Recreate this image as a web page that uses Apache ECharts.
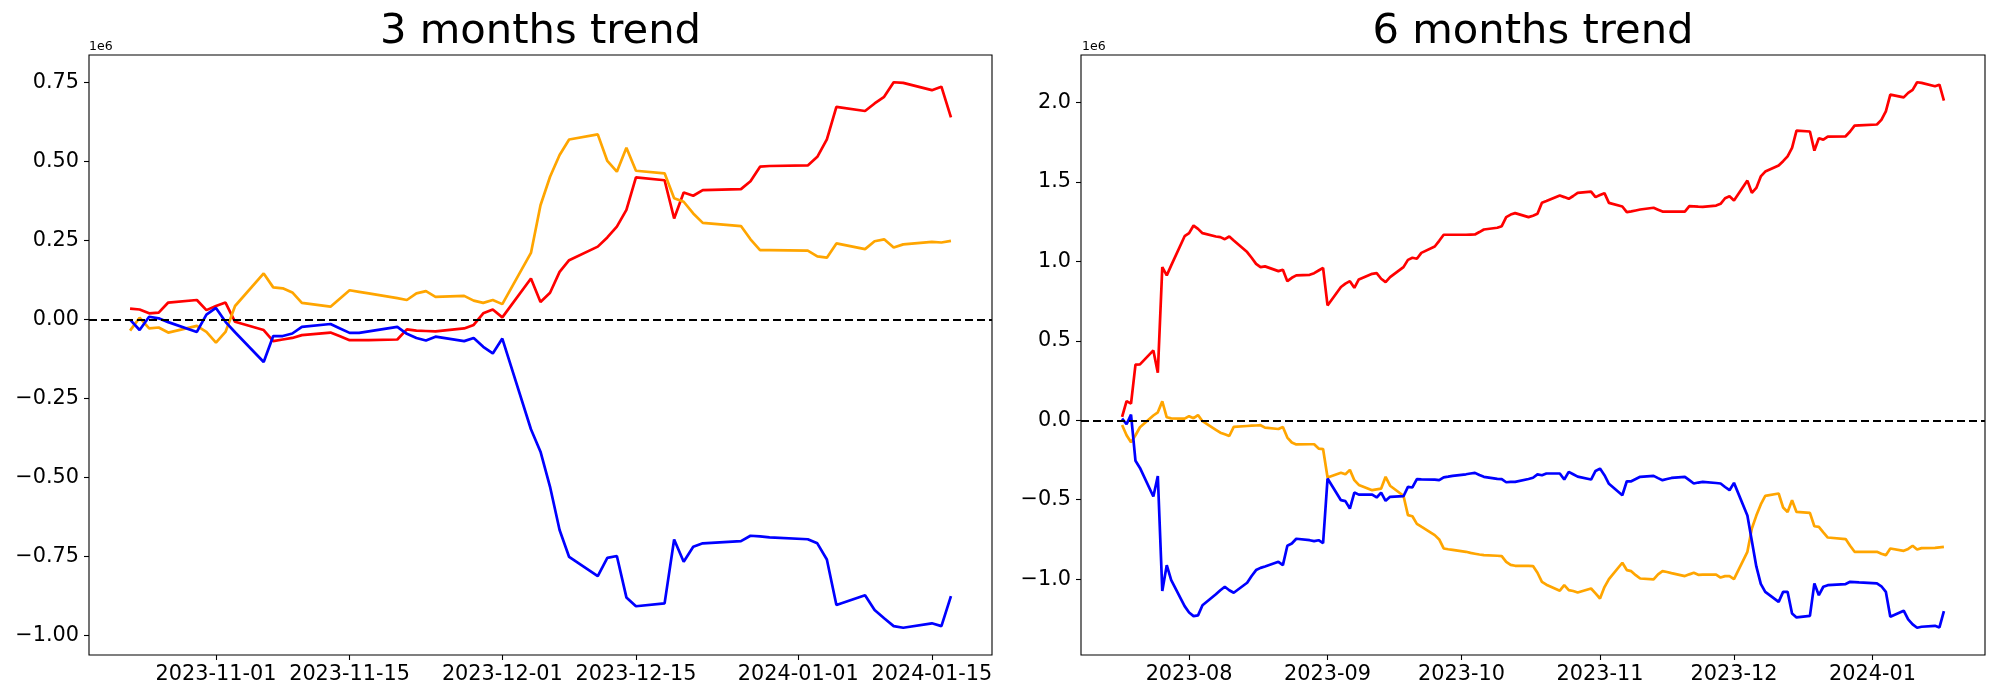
<!DOCTYPE html>
<html>
<head>
<meta charset="utf-8">
<style>
  html, body { margin: 0; padding: 0; background: #fff; }
  #chart { width: 2000px; height: 700px; }
</style>
<script src="https://cdn.jsdelivr.net/npm/echarts@6/dist/echarts.min.js"></script>
</head>
<body>
<div id="chart"></div>
<script>
// ---------------- DATA (values in units of 1e6) ----------------
const leftDates = [
  '2023-10-23','2023-10-24','2023-10-25','2023-10-26','2023-10-27',
  '2023-10-30','2023-10-31','2023-11-01','2023-11-02','2023-11-03',
  '2023-11-06','2023-11-07','2023-11-08','2023-11-09','2023-11-10',
  '2023-11-13','2023-11-14','2023-11-15','2023-11-16','2023-11-17',
  '2023-11-20','2023-11-21','2023-11-22','2023-11-23','2023-11-24',
  '2023-11-27','2023-11-28','2023-11-29','2023-11-30','2023-12-01',
  '2023-12-04','2023-12-05','2023-12-06','2023-12-07','2023-12-08',
  '2023-12-11','2023-12-12','2023-12-13','2023-12-14','2023-12-15',
  '2023-12-18','2023-12-19','2023-12-20','2023-12-21','2023-12-22',
  '2023-12-26','2023-12-27','2023-12-28','2023-12-29',
  '2024-01-02','2024-01-03','2024-01-04','2024-01-05',
  '2024-01-08','2024-01-09','2024-01-10','2024-01-11','2024-01-12',
  '2024-01-15','2024-01-16','2024-01-17'
];
const leftRed = [
  0.035, 0.032, 0.020, 0.022, 0.054,
  0.062, 0.030, 0.043, 0.054, -0.007,
  -0.033, -0.068, -0.063, -0.058, -0.049,
  -0.041, -0.053, -0.065, -0.065, -0.065,
  -0.063, -0.031, -0.035, -0.036, -0.037,
  -0.028, -0.017, 0.020, 0.032, 0.007,
  0.130, 0.056, 0.085, 0.151, 0.188,
  0.231, 0.260, 0.294, 0.347, 0.450,
  0.441, 0.320, 0.402, 0.392, 0.410,
  0.413, 0.438, 0.484, 0.486,
  0.488, 0.515, 0.570, 0.673,
  0.660, 0.684, 0.705, 0.751, 0.749,
  0.726, 0.737, 0.640
];
const leftOrange = [
  -0.035, 0.006, -0.028, -0.025, -0.041,
  -0.020, -0.039, -0.073, -0.039, 0.043,
  0.146, 0.102, 0.099, 0.086, 0.053,
  0.041, 0.067, 0.093, 0.088, 0.083,
  0.068, 0.062, 0.083, 0.090, 0.072,
  0.075, 0.060, 0.053, 0.062, 0.049,
  0.211, 0.362, 0.452, 0.521, 0.570,
  0.586, 0.502, 0.468, 0.544, 0.471,
  0.463, 0.384, 0.373, 0.336, 0.306,
  0.296, 0.254, 0.220, 0.220,
  0.218, 0.200, 0.196, 0.241,
  0.223, 0.248, 0.254, 0.228, 0.238,
  0.246, 0.244, 0.249
];
const leftBlue = [
  0.000, -0.033, 0.009, 0.004, -0.008,
  -0.039, 0.016, 0.037, -0.007, -0.040,
  -0.134, -0.052, -0.052, -0.044, -0.023,
  -0.014, -0.028, -0.042, -0.042, -0.037,
  -0.023, -0.045, -0.058, -0.066, -0.054,
  -0.068, -0.058, -0.086, -0.107, -0.060,
  -0.347, -0.418, -0.529, -0.666, -0.751,
  -0.812, -0.754, -0.748, -0.879, -0.907,
  -0.898, -0.696, -0.766, -0.719, -0.708,
  -0.701, -0.684, -0.686, -0.689,
  -0.695, -0.708, -0.759, -0.903,
  -0.872, -0.919, -0.945, -0.970, -0.975,
  -0.961, -0.970, -0.875
];

const rightDates = [
  '2023-07-17','2023-07-18','2023-07-19','2023-07-20','2023-07-21',
  '2023-07-24','2023-07-25','2023-07-26','2023-07-27','2023-07-28',
  '2023-07-31','2023-08-01','2023-08-02','2023-08-03','2023-08-04',
  '2023-08-07','2023-08-08','2023-08-09','2023-08-10','2023-08-11',
  '2023-08-14','2023-08-15','2023-08-16','2023-08-17','2023-08-18',
  '2023-08-21','2023-08-22','2023-08-23','2023-08-24','2023-08-25',
  '2023-08-28','2023-08-29','2023-08-30','2023-08-31','2023-09-01',
  '2023-09-04','2023-09-05','2023-09-06','2023-09-07','2023-09-08',
  '2023-09-11','2023-09-12','2023-09-13','2023-09-14','2023-09-15',
  '2023-09-18','2023-09-19','2023-09-20','2023-09-21','2023-09-22',
  '2023-09-25','2023-09-26','2023-09-27','2023-09-28','2023-09-29',
  '2023-10-02','2023-10-03','2023-10-04','2023-10-05','2023-10-06',
  '2023-10-09','2023-10-10','2023-10-11','2023-10-12','2023-10-13',
  '2023-10-16','2023-10-17','2023-10-18','2023-10-19','2023-10-20',
  '2023-10-23','2023-10-24','2023-10-25','2023-10-26','2023-10-27',
  '2023-10-30','2023-10-31','2023-11-01','2023-11-02','2023-11-03',
  '2023-11-06','2023-11-07','2023-11-08','2023-11-09','2023-11-10',
  '2023-11-13','2023-11-14','2023-11-15','2023-11-16','2023-11-17',
  '2023-11-20','2023-11-21','2023-11-22','2023-11-23','2023-11-24',
  '2023-11-27','2023-11-28','2023-11-29','2023-11-30','2023-12-01',
  '2023-12-04','2023-12-05','2023-12-06','2023-12-07','2023-12-08',
  '2023-12-11','2023-12-12','2023-12-13','2023-12-14','2023-12-15',
  '2023-12-18','2023-12-19','2023-12-20','2023-12-21','2023-12-22',
  '2023-12-26','2023-12-27','2023-12-28','2023-12-29',
  '2024-01-02','2024-01-03','2024-01-04','2024-01-05',
  '2024-01-08','2024-01-09','2024-01-10','2024-01-11','2024-01-12',
  '2024-01-15','2024-01-16','2024-01-17'
];
const rightRed = [
  0.021, 0.121, 0.105, 0.350, 0.352,
  0.440, 0.300, 0.964, 0.912, 0.975,
  1.159, 1.178, 1.226, 1.205, 1.178,
  1.157, 1.153, 1.140, 1.157, 1.132,
  1.059, 1.023, 0.985, 0.964, 0.969,
  0.939, 0.948, 0.876, 0.897, 0.912,
  0.916, 0.926, 0.943, 0.960, 0.723,
  0.839, 0.860, 0.876, 0.834, 0.887,
  0.922, 0.926, 0.891, 0.870, 0.901,
  0.964, 1.010, 1.023, 1.017, 1.054,
  1.094, 1.130, 1.168, 1.168, 1.168,
  1.168, 1.169, 1.170, 1.185, 1.201,
  1.212, 1.222, 1.279, 1.295, 1.304,
  1.279, 1.288, 1.300, 1.369, 1.380,
  1.415, 1.405, 1.394, 1.412, 1.432,
  1.440, 1.405, 1.418, 1.430, 1.369,
  1.346, 1.310, 1.315, 1.321, 1.327,
  1.338, 1.326, 1.314, 1.314, 1.314,
  1.314, 1.348, 1.347, 1.345, 1.344,
  1.352, 1.363, 1.398, 1.411, 1.384,
  1.509, 1.432, 1.463, 1.535, 1.566,
  1.604, 1.631, 1.662, 1.715, 1.824,
  1.818, 1.698, 1.776, 1.767, 1.786,
  1.788, 1.818, 1.855, 1.857,
  1.862, 1.891, 1.945, 2.050,
  2.033, 2.061, 2.080, 2.128, 2.124,
  2.103, 2.113, 2.013
];
const rightOrange = [
  -0.030, -0.094, -0.138, -0.094, -0.044,
  0.030, 0.050, 0.119, 0.019, 0.012,
  0.010, 0.026, 0.013, 0.033, -0.006,
  -0.060, -0.078, -0.088, -0.099, -0.042,
  -0.036, -0.034, -0.033, -0.031, -0.046,
  -0.055, -0.042, -0.109, -0.140, -0.152,
  -0.151, -0.151, -0.178, -0.181, -0.360,
  -0.330, -0.340, -0.312, -0.377, -0.407,
  -0.440, -0.435, -0.430, -0.356, -0.412,
  -0.475, -0.597, -0.604, -0.652, -0.670,
  -0.723, -0.750, -0.807, -0.812, -0.816,
  -0.828, -0.835, -0.840, -0.845, -0.849,
  -0.853, -0.855, -0.891, -0.910, -0.916,
  -0.917, -0.918, -0.960, -1.017, -1.035,
  -1.073, -1.038, -1.069, -1.075, -1.084,
  -1.059, -1.090, -1.122, -1.050, -1.000,
  -0.897, -0.943, -0.950, -0.975, -0.996,
  -1.002, -0.970, -0.950, -0.955, -0.962,
  -0.981, -0.970, -0.960, -0.973, -0.972,
  -0.971, -0.990, -0.981, -0.981, -1.000,
  -0.828, -0.681, -0.600, -0.530, -0.476,
  -0.461, -0.549, -0.577, -0.503, -0.577,
  -0.583, -0.667, -0.671, -0.705, -0.738,
  -0.748, -0.790, -0.828, -0.828,
  -0.828, -0.840, -0.849, -0.807,
  -0.822, -0.810, -0.790, -0.814, -0.805,
  -0.803, -0.800, -0.797
];
const rightBlue = [
  0.011, -0.025, 0.036, -0.255, -0.300,
  -0.480, -0.351, -1.075, -0.912, -1.006,
  -1.170, -1.210, -1.233, -1.228, -1.164,
  -1.095, -1.070, -1.048, -1.070, -1.086,
  -1.023, -0.980, -0.943, -0.929, -0.920,
  -0.891, -0.912, -0.790, -0.776, -0.746,
  -0.755, -0.761, -0.755, -0.774, -0.367,
  -0.503, -0.509, -0.556, -0.455, -0.468,
  -0.468, -0.486, -0.455, -0.507, -0.482,
  -0.478, -0.419, -0.423, -0.371, -0.372,
  -0.374, -0.377, -0.359, -0.355, -0.350,
  -0.340, -0.335, -0.331, -0.345, -0.356,
  -0.369, -0.370, -0.390, -0.388, -0.388,
  -0.370, -0.362, -0.341, -0.346, -0.335,
  -0.335, -0.373, -0.325, -0.340, -0.355,
  -0.373, -0.319, -0.304, -0.346, -0.400,
  -0.472, -0.384, -0.384, -0.370, -0.356,
  -0.350, -0.364, -0.377, -0.370, -0.363,
  -0.356, -0.377, -0.398, -0.392, -0.388,
  -0.395, -0.398, -0.420, -0.440, -0.394,
  -0.600, -0.760, -0.920, -1.030, -1.080,
  -1.143, -1.080, -1.080, -1.216, -1.241,
  -1.231, -1.027, -1.101, -1.048, -1.038,
  -1.031, -1.017, -1.019, -1.021,
  -1.027, -1.045, -1.080, -1.237,
  -1.199, -1.254, -1.285, -1.306, -1.300,
  -1.294, -1.304, -1.201
];

const leftXTicks = ['2023-11-01','2023-11-15','2023-12-01','2023-12-15','2024-01-01','2024-01-15'];
const rightXTicks = ['2023-08-01','2023-09-01','2023-10-01','2023-11-01','2023-12-01','2024-01-01'];
const leftYTicks = [-1.0, -0.75, -0.5, -0.25, 0, 0.25, 0.5, 0.75];
const rightYTicks = [-1.0, -0.5, 0, 0.5, 1.0, 1.5, 2.0];
const titles = ['3 months trend', '6 months trend'];
const offsetLabel = '1e6';

// ---------------- CHART ----------------
function ts(s) { const p = s.split('-').map(Number); return Date.UTC(p[0], p[1] - 1, p[2]); }
function pad(n) { return (n < 10 ? '0' : '') + n; }
function fmtDay(v) { const d = new Date(v); return d.getUTCFullYear() + '-' + pad(d.getUTCMonth() + 1) + '-' + pad(d.getUTCDate()); }
function fmtMonth(v) { const d = new Date(v); return d.getUTCFullYear() + '-' + pad(d.getUTCMonth() + 1); }
function fmtNum(dec) { return v => (v < -1e-9 ? '\u2212' : '') + Math.abs(v).toFixed(dec); }
function xRange(dates) {
  const a = ts(dates[0]), b = ts(dates[dates.length - 1]);
  const m = (b - a) * 0.05; return [a - m, b + m];
}
function yRange(arrs) {
  let lo = Infinity, hi = -Infinity;
  arrs.forEach(a => a.forEach(v => { lo = Math.min(lo, v); hi = Math.max(hi, v); }));
  const m = (hi - lo) * 0.05; return [lo - m, hi + m];
}

const FONT = 'DejaVu Sans';
const grids = [
  { left: 89, top: 55, width: 903, height: 600 },
  { left: 1081, top: 55, width: 904, height: 600 }
];
const lx = xRange(leftDates), rx = xRange(rightDates);
const ly = yRange([leftRed, leftOrange, leftBlue]);
const ry = yRange([rightRed, rightOrange, rightBlue]);

function xAxisFor(idx, range, ticks, fmt) {
  const vals = ticks.map(ts);
  return {
    type: 'value', gridIndex: idx, position: 'bottom', min: range[0], max: range[1], scale: true,
    axisLine: { show: false, onZero: false },
    axisTick: { show: true, length: 5, lineStyle: { color: '#000', width: 1.1 }, customValues: vals },
    axisLabel: { customValues: vals, formatter: fmt, color: '#000', fontSize: 20.8, fontFamily: FONT, margin: 9, hideOverlap: false },
    splitLine: { show: false }
  };
}
function yAxisFor(idx, range, ticks, dec) {
  return {
    type: 'value', gridIndex: idx, position: 'left', min: range[0], max: range[1],
    axisLine: { show: false, onZero: false },
    axisTick: { show: true, length: 5, lineStyle: { color: '#000', width: 1.1 }, customValues: ticks },
    axisLabel: { customValues: ticks, formatter: fmtNum(dec), color: '#000', fontSize: 20.8, fontFamily: FONT, margin: 10 },
    splitLine: { show: false }
  };
}
function lineSeries(idx, dates, vals, color, zero) {
  const s = {
    type: 'line', xAxisIndex: idx, yAxisIndex: idx,
    data: dates.map((d, i) => [ts(d), vals[i]]),
    showSymbol: false, symbol: 'none',
    lineStyle: { color: color, width: 2.7 }, itemStyle: { color: color },
    silent: true, animation: false
  };
  if (zero) {
    s.markLine = {
      silent: true, symbol: ['none', 'none'], label: { show: false },
      lineStyle: { color: '#000', type: [8, 4], width: 2 },
      data: [{ yAxis: 0 }], animation: false
    };
  }
  return s;
}

const chart = echarts.init(document.getElementById('chart'), null, { renderer: 'canvas' });
chart.setOption({
  animation: false,
  backgroundColor: '#ffffff',
  grid: grids.map(g => Object.assign({ show: true, borderColor: '#000', borderWidth: 1.1, backgroundColor: 'transparent' }, g)),
  xAxis: [
    xAxisFor(0, lx, leftXTicks, fmtDay),
    xAxisFor(1, rx, rightXTicks, fmtMonth)
  ],
  yAxis: [
    yAxisFor(0, ly, leftYTicks, 2),
    yAxisFor(1, ry, rightYTicks, 1)
  ],
  series: [
    lineSeries(0, leftDates, leftRed, '#ff0000', true),
    lineSeries(0, leftDates, leftOrange, '#ffa500', false),
    lineSeries(0, leftDates, leftBlue, '#0000ff', false),
    lineSeries(1, rightDates, rightRed, '#ff0000', true),
    lineSeries(1, rightDates, rightOrange, '#ffa500', false),
    lineSeries(1, rightDates, rightBlue, '#0000ff', false)
  ],
  graphic: [
    { type: 'text', x: 89 + 903 / 2, y: 32, style: { text: titles[0], font: '41.7px "DejaVu Sans"', fill: '#000', align: 'center', verticalAlign: 'middle' } },
    { type: 'text', x: 1081 + 904 / 2, y: 32, style: { text: titles[1], font: '41.7px "DejaVu Sans"', fill: '#000', align: 'center', verticalAlign: 'middle' } },
    { type: 'text', x: 89, y: 46.5, style: { text: offsetLabel, font: '12.5px "DejaVu Sans"', fill: '#000', align: 'left', verticalAlign: 'middle' } },
    { type: 'text', x: 1082, y: 46.5, style: { text: offsetLabel, font: '12.5px "DejaVu Sans"', fill: '#000', align: 'left', verticalAlign: 'middle' } }
  ]
});
</script>
</body>
</html>
